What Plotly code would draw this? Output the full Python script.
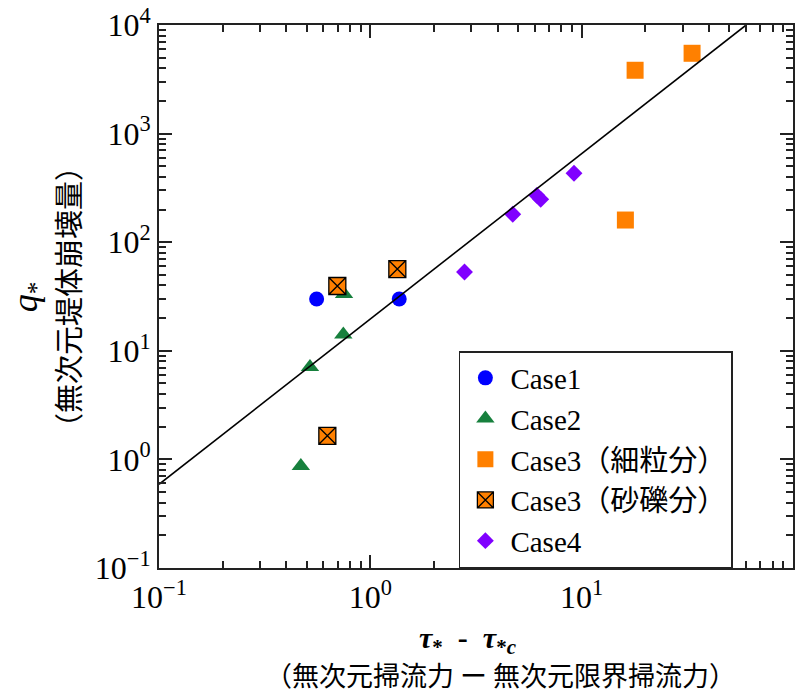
import plotly.graph_objects as go

# ---- data ----
case1_x = [0.557, 1.37]
case1_y = [30, 30]
case2_x = [0.751, 0.745, 0.518, 0.469]
case2_y = [33.3, 14.1, 7.1, 0.869]
case3f_x = [17.9, 33.3, 16.1]
case3f_y = [3830, 5490, 160]
case3g_x = [0.698, 1.342, 0.626]
case3g_y = [39.5, 56.6, 1.65]
case4_x = [2.79, 4.72, 6.13, 6.40, 9.2]
case4_y = [53.2, 181, 270, 248, 431]
fit_x = [0.1, 60]
fit_y = [0.59, 10000]

names = ["Case1", "Case2", "Case3（細粒分）", "Case3（砂礫分）", "Case4"]
x_tickvals = [0.1, 1, 10, 100]
x_ticktext = ["10<sup>−1</sup>", "10<sup>0</sup>", "10<sup>1</sup>", "10<sup>2</sup>"]
y_tickvals = [0.1, 1, 10, 100, 1000, 10000]
y_ticktext = ["10<sup>−1</sup>", "10<sup>0</sup>", "10<sup>1</sup>", "10<sup>2</sup>",
              "10<sup>3</sup>", "10<sup>4</sup>"]

SERIF = "'Liberation Serif', 'Times New Roman', 'Noto Sans CJK JP', serif"
SANS = "'Noto Sans CJK JP', 'Noto Sans', sans-serif"

fig = go.Figure()
fig.add_trace(go.Scatter(x=case1_x, y=case1_y, mode="markers", name=names[0],
                         marker=dict(symbol="circle", size=15, color="#0000ff")))
fig.add_trace(go.Scatter(x=case2_x, y=case2_y, mode="markers", name=names[1],
                         marker=dict(symbol="triangle-up", size=16, color="#17803d")))
fig.add_trace(go.Scatter(x=case3f_x, y=case3f_y, mode="markers", name=names[2],
                         marker=dict(symbol="square", size=17, color="#ff8000")))
fig.add_trace(go.Scatter(x=case3g_x, y=case3g_y, mode="markers", name=names[3],
                         marker=dict(symbol="square-x", size=17, color="#ff8000",
                                     line=dict(color="black", width=1.3))))
fig.add_trace(go.Scatter(x=case4_x, y=case4_y, mode="markers", name=names[4],
                         marker=dict(symbol="diamond", size=13, color="#8000ff")))
fig.add_trace(go.Scatter(x=fit_x, y=fit_y, mode="lines", showlegend=False,
                         line=dict(color="black", width=1.6)))

minor_x = [m * 10 ** e for e in (-1, 0, 1) for m in range(2, 10)]
minor_y = [m * 10 ** e for e in (-1, 0, 1, 2, 3) for m in range(2, 10)]

axis_common = dict(
    showgrid=False, zeroline=False, showline=True, linecolor="#222", linewidth=2,
    mirror="ticks", ticks="inside", ticklen=13, tickwidth=1.5, tickcolor="#222",
    tickfont=dict(family=SERIF, size=32, color="black"), automargin=False,
)
fig.update_xaxes(type="log", range=[-1, 2], tickmode="array", tickvals=x_tickvals,
                 ticktext=x_ticktext,
                 minor=dict(tickvals=minor_x, ticks="inside", ticklen=7, tickwidth=1.5,
                            tickcolor="#222", showgrid=False),
                 **axis_common)
fig.update_yaxes(type="log", range=[-1, 4], tickmode="array", tickvals=y_tickvals,
                 ticktext=y_ticktext,
                 minor=dict(tickvals=minor_y, ticks="inside", ticklen=7, tickwidth=1.5,
                            tickcolor="#222", showgrid=False),
                 **axis_common)

fig.add_annotation(xref="paper", yref="paper", x=0.487, y=-0.132, showarrow=False,
                   xanchor="center", yanchor="middle",
                   text="<b><i>τ</i><sub>*</sub>  -  <i>τ</i><sub>*<i>c</i></sub></b>",
                   font=dict(family=SERIF, size=30, color="black"))
fig.add_annotation(xref="paper", yref="paper", x=0.538, y=-0.196, showarrow=False,
                   xanchor="center", yanchor="middle",
                   text="（無次元掃流力 ー 無次元限界掃流力）",
                   font=dict(family=SANS, size=27, color="black"))
fig.add_annotation(xref="paper", yref="paper", x=-0.208, y=0.499, showarrow=False,
                   xanchor="center", yanchor="middle", textangle=-90,
                   text="<i>q</i><sub>*</sub>",
                   font=dict(family=SERIF, size=36, color="black"))
fig.add_annotation(xref="paper", yref="paper", x=-0.145, y=0.499, showarrow=False,
                   xanchor="center", yanchor="middle", textangle=-90,
                   text="（無次元堤体崩壊量）",
                   font=dict(family=SANS, size=29, color="black"))

fig.update_layout(
    width=812, height=695,
    margin=dict(l=159, r=19, t=25, b=127),
    paper_bgcolor="white", plot_bgcolor="white",
    showlegend=True,
    legend=dict(x=0.473, y=0.3996, xanchor="left", yanchor="top",
                bgcolor="white", bordercolor="#222", borderwidth=1.5,
                font=dict(family=SERIF, size=29, color="black"),
                tracegroupgap=0, itemsizing="trace", itemwidth=40),
)

fig.write_html("out.html", post_script="document.body.style.margin='0';",
               config={"displayModeBar": False})
